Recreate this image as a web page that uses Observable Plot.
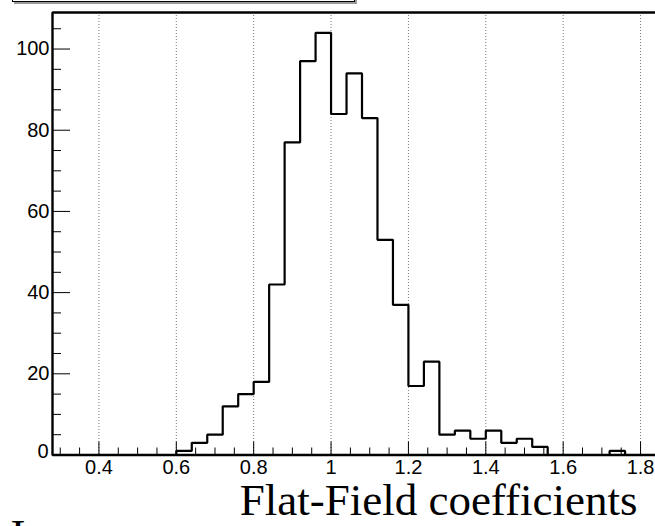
<!DOCTYPE html>
<html>
<head>
<meta charset="utf-8">
<script src="https://cdn.jsdelivr.net/npm/d3@7"></script>
<script src="https://cdn.jsdelivr.net/npm/@observablehq/plot@0.6"></script>
<style>
  html, body { margin: 0; padding: 0; background: #fff; overflow: hidden; }
  #wrap { position: relative; width: 655px; height: 526px; overflow: hidden; background: #fff; }
  #wrap svg { position: absolute; left: 0; top: 0; max-width: none !important; overflow: visible; }
  #titlebox { position: absolute; left: 12px; top: -30px; width: 341px; height: 30px;
              border: 1px solid #000; background: #fff; box-shadow: 2px 2px 0 #9a9a9a; }
</style>
</head>
<body>
<div id="wrap"></div>
<script>
// ---- data ----
const binWidth = 0.04;
const binLow = [0.60, 0.64, 0.68, 0.72, 0.76, 0.80, 0.84, 0.88, 0.92, 0.96,
                1.00, 1.04, 1.08, 1.12, 1.16, 1.20, 1.24, 1.28, 1.32, 1.36,
                1.40, 1.44, 1.48, 1.52, 1.56, 1.60, 1.64, 1.68, 1.72];
const counts = [1, 3, 5, 12, 15, 18, 42, 77, 97, 104,
                84, 94, 83, 53, 37, 17, 23, 5, 6, 4,
                6, 3, 4, 2, 0, 0, 0, 0, 1];

// ---- axes (the frame continues past the right edge of the picture) ----
const xDomain = [0.28, 1.88];
const yDomain = [0, 109];
const xMajor = [0.4, 0.6, 0.8, 1.0, 1.2, 1.4, 1.6, 1.8];
const xTickLabels = ["0.4", "0.6", "0.8", "1", "1.2", "1.4", "1.6", "1.8"];
const xMinor = [0.30, 0.35, 0.45, 0.50, 0.55, 0.65, 0.70, 0.75, 0.85, 0.90, 0.95,
                1.05, 1.10, 1.15, 1.25, 1.30, 1.35, 1.45, 1.50, 1.55, 1.65, 1.70, 1.75, 1.85];
const yMajor = [0, 20, 40, 60, 80, 100];
const yMinor = [5, 10, 15, 25, 30, 35, 45, 50, 55, 65, 70, 75, 85, 90, 95, 105];
const xTitle = "Flat-Field coefficients";
const cornerText = "I";

// ---- step outline built from the bins ----
const outline = [{x: binLow[0], y: 0}];
binLow.forEach((lo, i) => {
  outline.push({x: lo, y: counts[i]});
  outline.push({x: lo + binWidth, y: counts[i]});
});
outline.push({x: binLow[binLow.length - 1] + binWidth, y: 0});

// open frame: top, left, bottom
const frameLine = [
  {x: xDomain[1], y: yDomain[1]},
  {x: xDomain[0], y: yDomain[1]},
  {x: xDomain[0], y: yDomain[0]},
  {x: xDomain[1], y: yDomain[0]}
];

const W = 671, H = 526;
const mL = 52, mR = 0, mT = 12, mB = 71.5;
const frameW = W - mL - mR, frameH = H - mT - mB;
const xLabelFor = new Map(xMajor.map((v, i) => [v, xTickLabels[i]]));
const sans = "'Liberation Sans', Arial, Helvetica, sans-serif";
const serif = "'Liberation Serif', 'Times New Roman', serif";

const chart = Plot.plot({
  width: W, height: H,
  marginLeft: mL, marginRight: mR, marginTop: mT, marginBottom: mB,
  x: {domain: xDomain, label: null},
  y: {domain: yDomain, label: null},
  style: {background: "#fff", fontFamily: sans, color: "#000", overflow: "visible"},
  marks: [
    Plot.ruleX(xMajor, {x: d => d, stroke: "#777", strokeWidth: 1, strokeDasharray: "1,2"}),
    Plot.line(outline, {x: "x", y: "y", stroke: "#000", strokeWidth: 2.2, strokeLinejoin: "miter", curve: "linear"}),
    Plot.tickX(xMajor, {x: d => d, insetTop: frameH - 13, stroke: "#000", strokeWidth: 1}),
    Plot.tickX(xMinor, {x: d => d, insetTop: frameH - 7, stroke: "#000", strokeWidth: 1}),
    Plot.tickY(yMajor, {y: d => d, insetRight: frameW - 18, stroke: "#000", strokeWidth: 1}),
    Plot.tickY(yMinor, {y: d => d, insetRight: frameW - 9, stroke: "#000", strokeWidth: 1}),
    Plot.line(frameLine, {x: "x", y: "y", stroke: "#000", strokeWidth: 2.4, strokeLinejoin: "miter", curve: "linear"}),
    Plot.axisX(xMajor, {tickSize: 0, tickPadding: 5, tickFormat: d => xLabelFor.get(d),
                        fontSize: 20, fontFamily: sans, fill: "#000", label: null}),
    Plot.axisY(yMajor.filter(d => d !== 0), {tickSize: 0, tickPadding: 3, fontSize: 20,
                        fontFamily: sans, fill: "#000", label: null}),
    Plot.axisY([0], {tickSize: 0, tickPadding: 4, dy: -3, fontSize: 20,
                        fontFamily: sans, fill: "#000", label: null}),
    Plot.text([xTitle], {frameAnchor: "bottom-left", text: d => d, dx: 585, dy: 59.5,
                         textAnchor: "end", lineAnchor: "bottom",
                         fontFamily: serif, fontSize: 45, fill: "#000"}),
    Plot.text([cornerText], {frameAnchor: "bottom-left", text: d => d, dx: -34.5, dy: 95,
                         textAnchor: "middle", lineAnchor: "bottom",
                         fontFamily: serif, fontSize: 45, fill: "#000"})
  ]
});

const wrap = document.getElementById("wrap");
wrap.appendChild(chart);
const box = document.createElement("div");
box.id = "titlebox";
wrap.appendChild(box);
</script>
</body>
</html>
